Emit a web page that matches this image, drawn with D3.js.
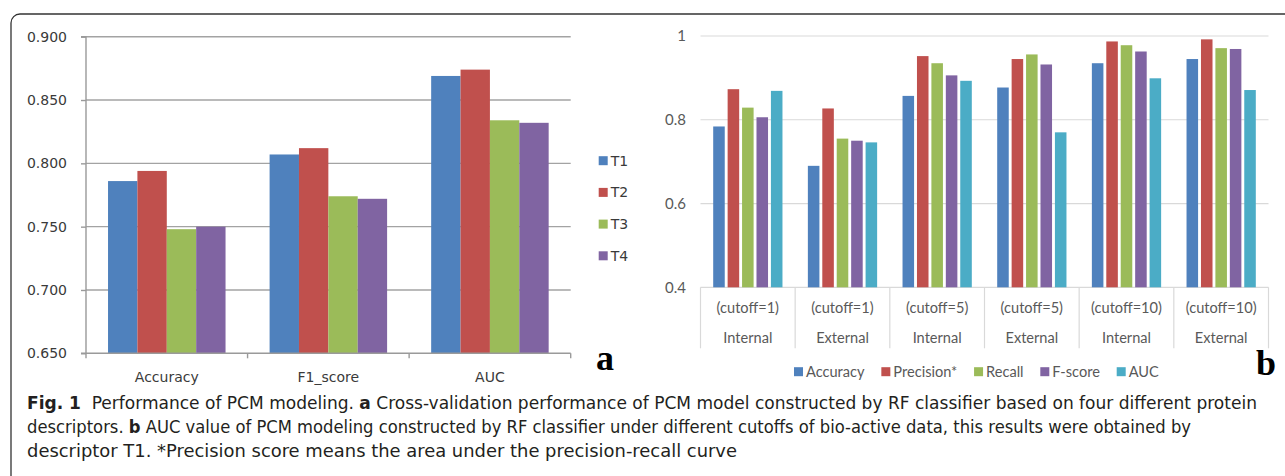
<!DOCTYPE html>
<html>
<head>
<meta charset="utf-8">
<script src="https://cdn.jsdelivr.net/npm/d3@7"></script>
<style>
  html, body { margin: 0; padding: 0; background: #fff; }
  svg { display: block; }
</style>
</head>
<body>
<svg id="chart" width="1285" height="476"></svg>
<script>
// ---------- Data: panel a ----------
const categoriesA = ["Accuracy", "F1_score", "AUC"];
const seriesA = ["T1", "T2", "T3", "T4"];
const valuesT1 = [0.786, 0.807, 0.869];
const valuesT2 = [0.794, 0.812, 0.874];
const valuesT3 = [0.748, 0.774, 0.834];
const valuesT4 = [0.750, 0.772, 0.832];
const ticksA = [0.650, 0.700, 0.750, 0.800, 0.850, 0.900];

// ---------- Data: panel b ----------
const cutoffLabels = ["(cutoff=1)", "(cutoff=1)", "(cutoff=5)", "(cutoff=5)", "(cutoff=10)", "(cutoff=10)"];
const setLabels = ["Internal", "External", "Internal", "External", "Internal", "External"];
const seriesB = ["Accuracy", "Precision*", "Recall", "F-score", "AUC"];
const accuracyB = [0.784, 0.690, 0.857, 0.877, 0.935, 0.945];
const precisionB = [0.873, 0.827, 0.952, 0.945, 0.987, 0.992];
const recallB = [0.829, 0.755, 0.935, 0.956, 0.978, 0.971];
const fscoreB = [0.806, 0.750, 0.906, 0.932, 0.963, 0.969];
const aucB = [0.869, 0.746, 0.893, 0.770, 0.899, 0.871];
const ticksB = [0.4, 0.6, 0.8, 1];
const tickLabelsB = ["0.4", "0.6", "0.8", "1"];

const colorsA = ["#4F81BD", "#C0504D", "#9BBB59", "#8064A2"];
const colorsB = ["#4F81BD", "#C0504D", "#9BBB59", "#8064A2", "#4BACC6"];

const svg = d3.select("#chart");

// Frame (rounded box)
svg.append("rect")
  .attr("x", 11).attr("y", 14).attr("width", 1300).attr("height", 500)
  .attr("rx", 9).attr("ry", 9)
  .attr("fill", "none").attr("stroke", "#333").attr("stroke-width", 1.3);

// ================= Panel a =================
(function () {
  const left = 86, right = 570.7, top = 36.7, bottom = 353.3;
  const fontA = "'DejaVu Sans', Verdana, sans-serif";
  const g = svg.append("g");
  const y = d3.scaleLinear().domain([0.65, 0.9]).range([bottom, top]);
  const x0 = d3.scaleBand().domain(categoriesA).range([left, right]).paddingInner(0).paddingOuter(0);
  const x1 = d3.scaleBand().domain(seriesA).range([0, x0.bandwidth()]).paddingInner(0).paddingOuter(0.75);
  const table = [valuesT1, valuesT2, valuesT3, valuesT4];

  // gridlines
  g.append("g").selectAll("line").data(ticksA.slice(1)).join("line")
    .attr("x1", left).attr("x2", right)
    .attr("y1", d => y(d)).attr("y2", d => y(d))
    .attr("stroke", "#a3a3a3").attr("stroke-width", 1.4);

  // bars
  const groups = g.append("g").selectAll("g").data(categoriesA).join("g")
    .attr("transform", d => `translate(${x0(d)},0)`);
  groups.selectAll("rect")
    .data((c, ci) => seriesA.map((s, si) => ({ s, si, v: table[si][ci] })))
    .join("rect")
    .attr("x", d => x1(d.s))
    .attr("width", x1.bandwidth())
    .attr("y", d => y(d.v))
    .attr("height", d => y(0.65) - y(d.v))
    .attr("fill", d => colorsA[d.si]);

  // y axis
  const ya = d3.axisLeft(y).tickValues(ticksA).tickFormat(d3.format(".3f")).tickSize(5).tickPadding(14);
  const yg = g.append("g").attr("transform", `translate(${left},0)`).call(ya);
  yg.select(".domain").attr("stroke", "#9a9a9a").attr("stroke-width", 1.4).attr("d", `M-5,${top}H0V${bottom}H-5`);
  yg.selectAll(".tick line").attr("stroke", "#9a9a9a").attr("stroke-width", 1.4);
  yg.selectAll(".tick text").attr("font-family", fontA).attr("font-size", 14).attr("fill", "#3a3a3a");

  // x axis
  const xa = g.append("g");
  xa.append("line").attr("x1", left).attr("x2", right).attr("y1", bottom).attr("y2", bottom)
    .attr("stroke", "#9a9a9a").attr("stroke-width", 1.4);
  const edges = categoriesA.map(c => x0(c)).concat([x0(categoriesA[categoriesA.length - 1]) + x0.bandwidth()]);
  xa.selectAll("line.tk").data(edges).join("line").attr("class", "tk")
    .attr("x1", d => d).attr("x2", d => d).attr("y1", bottom).attr("y2", bottom + 5)
    .attr("stroke", "#9a9a9a").attr("stroke-width", 1.4);
  xa.selectAll("text").data(categoriesA).join("text")
    .attr("x", d => x0(d) + x0.bandwidth() / 2).attr("y", 381.5)
    .attr("text-anchor", "middle")
    .attr("font-family", fontA).attr("font-size", 14).attr("fill", "#3a3a3a")
    .text(d => d);

  // legend
  const leg = g.append("g").selectAll("g").data(seriesA).join("g")
    .attr("transform", (d, i) => `translate(598.7, ${160.7 + i * 31.7})`);
  leg.append("rect").attr("x", 0).attr("y", -4.5).attr("width", 9).attr("height", 9)
    .attr("fill", (d, i) => colorsA[i]);
  leg.append("text").attr("x", 12).attr("y", 0).attr("dy", "0.36em")
    .attr("font-family", fontA).attr("font-size", 14).attr("fill", "#3a3a3a")
    .text(d => d);

  g.append("text").attr("x", 596).attr("y", 370)
    .attr("font-family", "'Liberation Serif', 'Times New Roman', serif")
    .attr("font-weight", "bold").attr("font-size", 36).attr("fill", "#000")
    .text("a");
})();

// ================= Panel b =================
(function () {
  const left = 700.5, right = 1268.5, top = 36, bottom = 287.3;
  const fontB = "Lato, 'Open Sans', sans-serif";
  const g = svg.append("g");
  const y = d3.scaleLinear().domain([0.4, 1]).range([bottom, top]);
  const idx = d3.range(cutoffLabels.length);
  const x0 = d3.scaleBand().domain(idx).range([left, right]).paddingInner(0).paddingOuter(0);
  const x1 = d3.scaleBand().domain(seriesB).range([0, x0.bandwidth()]).paddingInner(0.2).paddingOuter(0.88);
  const table = [accuracyB, precisionB, recallB, fscoreB, aucB];

  // gridlines
  g.append("g").selectAll("line").data(ticksB).join("line")
    .attr("x1", left).attr("x2", right)
    .attr("y1", d => y(d)).attr("y2", d => y(d))
    .attr("stroke", "#d9d9d9").attr("stroke-width", 1.2);

  // y labels
  g.append("g").selectAll("text").data(ticksB).join("text")
    .attr("x", 686).attr("y", d => y(d)).attr("dy", "0.35em")
    .attr("text-anchor", "end")
    .attr("font-family", fontB).attr("font-size", 15).attr("fill", "#595959")
    .text((d, i) => tickLabelsB[i]);

  // bars
  const groups = g.append("g").selectAll("g").data(idx).join("g")
    .attr("transform", d => `translate(${x0(d)},0)`);
  groups.selectAll("rect")
    .data(ci => seriesB.map((s, si) => ({ s, si, v: table[si][ci] })))
    .join("rect")
    .attr("x", d => x1(d.s))
    .attr("width", x1.bandwidth())
    .attr("y", d => y(d.v))
    .attr("height", d => y(0.4) - y(d.v))
    .attr("fill", d => colorsB[d.si]);

  // category table lines
  const edges = idx.map(i => x0(i)).concat([right]);
  g.append("g").selectAll("line").data(edges).join("line")
    .attr("x1", d => d).attr("x2", d => d).attr("y1", bottom).attr("y2", 348.3)
    .attr("stroke", "#d9d9d9").attr("stroke-width", 1.2);

  g.append("g").selectAll("text").data(idx).join("text")
    .attr("x", d => x0(d) + x0.bandwidth() / 2).attr("y", 308.3).attr("dy", "0.35em")
    .attr("text-anchor", "middle")
    .attr("font-family", fontB).attr("font-size", 14.6).attr("fill", "#595959")
    .text(d => cutoffLabels[d]);
  g.append("g").selectAll("text").data(idx).join("text")
    .attr("x", d => x0(d) + x0.bandwidth() / 2).attr("y", 338.3).attr("dy", "0.35em")
    .attr("text-anchor", "middle")
    .attr("font-family", fontB).attr("font-size", 14.6).attr("fill", "#595959")
    .text(d => setLabels[d]);

  // legend
  const legG = g.append("g");
  const items = legG.selectAll("g").data(seriesB).join("g");
  items.append("rect").attr("x", 0).attr("y", -4.5).attr("width", 9).attr("height", 9)
    .attr("fill", (d, i) => colorsB[i]);
  items.append("text").attr("x", 12).attr("y", 0).attr("dy", "0.35em")
    .attr("font-family", fontB).attr("font-size", 14.6).attr("fill", "#595959")
    .text(d => d);
  const widths = [];
  items.each(function () { widths.push(12 + d3.select(this).select("text").node().getComputedTextLength()); });
  const startX = 794, lastX = 1116.7;
  const gap = (lastX - startX - d3.sum(widths.slice(0, widths.length - 1))) / (widths.length - 1);
  let cx = startX;
  items.attr("transform", (d, i) => { const t = `translate(${cx},371.7)`; cx += widths[i] + gap; return t; });

  g.append("text").attr("x", 1256).attr("y", 375)
    .attr("font-family", "'Liberation Serif', 'Times New Roman', serif")
    .attr("font-weight", "bold").attr("font-size", 36).attr("fill", "#000")
    .text("b");
})();

// ================= Caption =================
(function () {
  const capFont = "'DejaVu Sans Condensed', 'Liberation Sans Narrow', 'Open Sans', sans-serif";
  const lines = [
    [["Fig. 1", true], ["  Performance of PCM modeling. ", false], ["a", true], [" Cross-validation performance of PCM model constructed by RF classifier based on four different protein", false]],
    [["descriptors. ", false], ["b", true], [" AUC value of PCM modeling constructed by RF classifier under different cutoffs of bio-active data, this results were obtained by", false]],
    [["descriptor T1. *Precision score means the area under the precision-recall curve", false]]
  ];
  const baselines = [409, 433, 457];
  const lineEnds = [1257, 1191, 737];
  const cap = svg.append("g");
  lines.forEach((parts, li) => {
    const t = cap.append("text").attr("x", 27).attr("y", baselines[li])
      .attr("font-family", capFont).attr("font-size", 17.5).attr("fill", "#231f20")
      .attr("textLength", lineEnds[li] - 27).attr("lengthAdjust", "spacingAndGlyphs")
      .style("white-space", "pre");
    parts.forEach(([txt, bold]) => {
      t.append("tspan").attr("font-weight", bold ? "bold" : "normal").text(txt);
    });
  });
})();
</script>
</body>
</html>
